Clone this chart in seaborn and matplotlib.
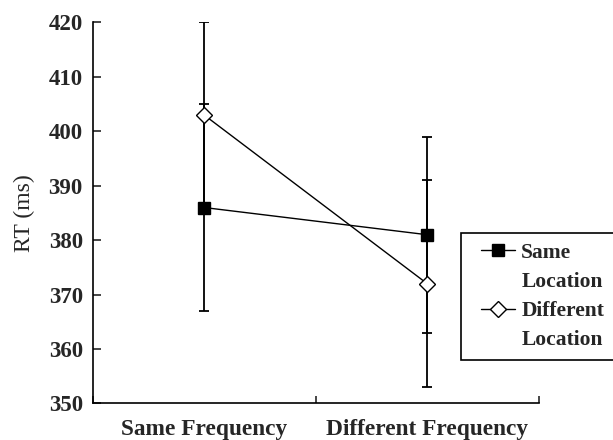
import pandas as pd
import matplotlib.pyplot as plt
import seaborn as sns
from matplotlib.lines import Line2D
from matplotlib.legend_handler import HandlerLine2D

# data
conditions = ["Same Frequency", "Different Frequency"]
series = ["Same Location", "Different Location"]
same_loc = [386, 381]
same_loc_err = [19, 18]
diff_loc = [403, 372]
diff_loc_err = [17, 19]

df = pd.DataFrame({
    "cond": conditions * 2,
    "rt": same_loc + diff_loc,
    "err": same_loc_err + diff_loc_err,
    "series": [series[0]] * 2 + [series[1]] * 2,
})
df["x"] = df["cond"].map({c: i for i, c in enumerate(conditions)})

sns.set_style("ticks")
plt.rcParams["font.family"] = ["Liberation Serif", "DejaVu Serif"]

fig = plt.figure(figsize=(6.13, 4.40), dpi=100)
ax = fig.add_axes([0.151, 0.083, 0.728, 0.866])

# error bars first, markers go on top
for name, sub in df.groupby("series", sort=False):
    ax.errorbar(sub["x"], sub["rt"], yerr=sub["err"], fmt="none",
                ecolor="black", elinewidth=1.3, capsize=3.3, capthick=1.3, zorder=2)

styles = {
    series[0]: dict(marker="s", markerfacecolor="black", markersize=9),
    series[1]: dict(marker="D", markerfacecolor="white", markersize=8.5),
}
for name, sub in df.groupby("series", sort=False):
    sns.lineplot(data=sub, x="x", y="rt", ax=ax, color="black", linewidth=1.0,
                 markeredgecolor="black", markeredgewidth=1.0, label=name,
                 legend=False, zorder=3, **styles[name])

ax.set_xlim(-0.5, 1.5)
ax.set_ylim(350, 420)
ax.set_yticks(range(350, 421, 10))
ax.set_xticks([-0.5, 0.5, 1.5])
ax.set_xticklabels([])
ax.set_xticks([0, 1], minor=True)
ax.set_xticklabels(conditions, minor=True)
ax.tick_params(axis="x", which="minor", length=0, pad=11.5)
ax.tick_params(axis="x", which="major", direction="in", length=5, width=1.2)
ax.tick_params(axis="y", direction="in", length=5.5, width=1.2, pad=7)
for lab in ax.get_yticklabels() + ax.get_xticklabels(minor=True):
    lab.set_fontweight("bold")
for lab in ax.get_yticklabels():
    lab.set_fontsize(16.5)
for lab in ax.get_xticklabels(minor=True):
    lab.set_fontsize(16.8)
ax.set_xlabel("")
ax.set_ylabel("RT (ms)", fontsize=17, labelpad=10)
sns.despine(ax=ax)
for sp in ("left", "bottom"):
    ax.spines[sp].set_linewidth(1.2)
    ax.spines[sp].set_color("black")

# legend with the second word on its own row, handle next to the first word
handles, labels = ax.get_legend_handles_labels()
blank = Line2D([], [], linestyle="none")
leg_handles, leg_labels = [], []
for h, l in zip(handles, labels):
    first, second = l.split(" ")
    leg_handles += [h, blank]
    leg_labels += [first, second]
leg = fig.legend(leg_handles, leg_labels, loc="upper left", bbox_to_anchor=(0.752, 0.470),
                 borderaxespad=0, fancybox=False, framealpha=1, edgecolor="black",
                 prop={"weight": "bold", "size": 15.5}, handlelength=2.05,
                 handletextpad=0.3, labelspacing=0.42, borderpad=0.45,
                 handler_map={Line2D: HandlerLine2D(xpad=0.47)})
leg.get_frame().set_linewidth(1.2)

fig.savefig("out.png", dpi=100)
